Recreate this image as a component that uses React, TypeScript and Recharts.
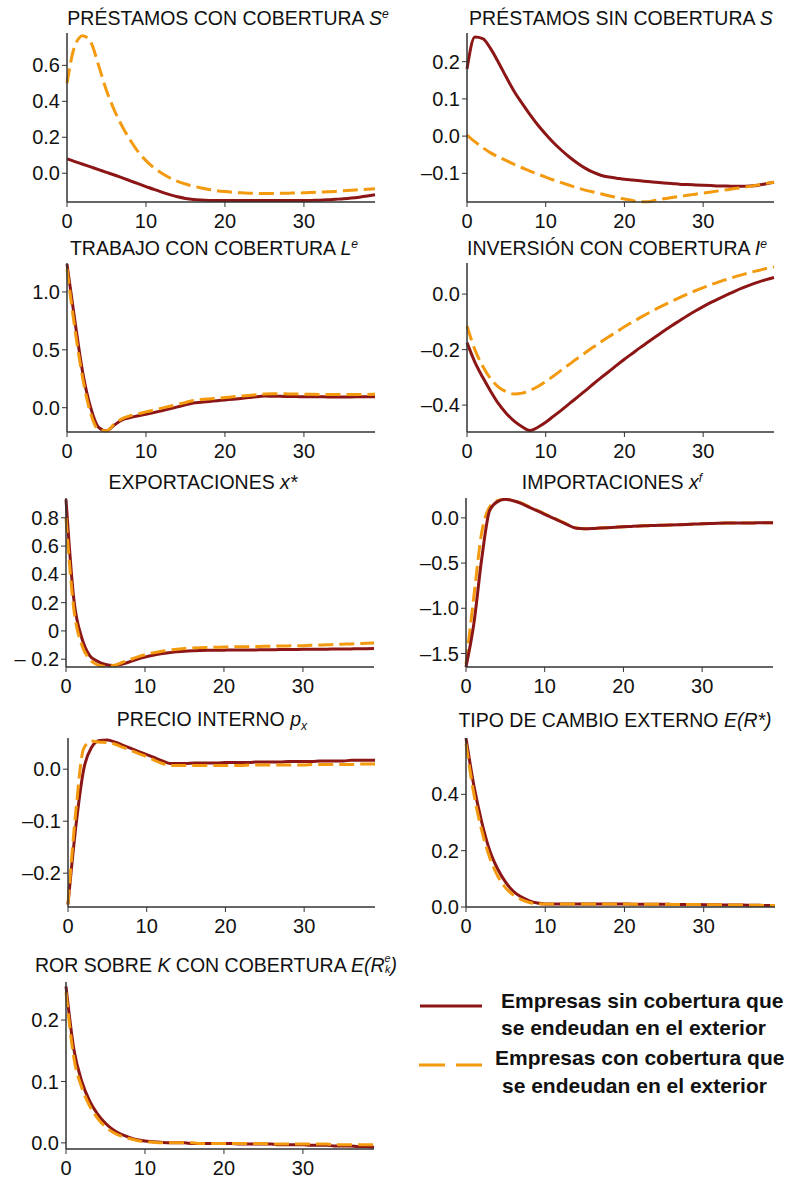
import React from 'react';
import { LineChart, Line, XAxis, YAxis } from 'recharts';

// periodos (trimestres) del eje horizontal
const periods = [0, 1, 2, 3, 4, 5, 6, 7, 8, 9, 10, 11, 12, 13, 14, 15, 16, 17, 18, 19, 20, 21, 22, 23, 24, 25, 26, 27, 28, 29, 30, 31, 32, 33, 34, 35, 36, 37, 38, 39];
const xTicks = [0, 10, 20, 30];

// sin cobertura (rojo) / con cobertura (naranja)
const loansHedgedSin = [0.08, 0.065, 0.05, 0.035, 0.02, 0.005, -0.01, -0.026, -0.042, -0.058, -0.074, -0.09, -0.105, -0.119, -0.131, -0.14, -0.146, -0.149, -0.151, -0.152, -0.152, -0.152, -0.152, -0.152, -0.152, -0.152, -0.152, -0.152, -0.152, -0.152, -0.152, -0.151, -0.15, -0.148, -0.145, -0.142, -0.138, -0.133, -0.127, -0.12];
const loansHedgedCon = [0.5, 0.71, 0.765, 0.73, 0.6, 0.46, 0.35, 0.26, 0.185, 0.12, 0.07, 0.03, 0.0, -0.025, -0.045, -0.06, -0.072, -0.082, -0.09, -0.097, -0.102, -0.106, -0.109, -0.111, -0.112, -0.113, -0.113, -0.112, -0.111, -0.11, -0.109, -0.107, -0.105, -0.103, -0.101, -0.098, -0.095, -0.092, -0.089, -0.086];

const loansUnhedgedSin = [0.18, 0.266, 0.262, 0.235, 0.198, 0.158, 0.12, 0.088, 0.058, 0.03, 0.005, -0.018, -0.038, -0.056, -0.072, -0.086, -0.097, -0.105, -0.11, -0.113, -0.116, -0.118, -0.12, -0.122, -0.124, -0.126, -0.127, -0.129, -0.13, -0.131, -0.132, -0.133, -0.134, -0.134, -0.135, -0.135, -0.134, -0.132, -0.128, -0.124];
const loansUnhedgedCon = [0.003, -0.015, -0.031, -0.045, -0.056, -0.066, -0.076, -0.085, -0.094, -0.102, -0.11, -0.118, -0.125, -0.132, -0.139, -0.145, -0.15, -0.155, -0.16, -0.165, -0.169, -0.173, -0.176, -0.176, -0.172, -0.168, -0.165, -0.162, -0.159, -0.156, -0.153, -0.15, -0.147, -0.144, -0.141, -0.138, -0.135, -0.131, -0.127, -0.124];

const laborSin = [1.24, 0.75, 0.3, 0.0, -0.17, -0.2, -0.15, -0.105, -0.085, -0.07, -0.057, -0.042, -0.026, -0.01, 0.007, 0.024, 0.04, 0.047, 0.054, 0.06, 0.067, 0.073, 0.08, 0.087, 0.094, 0.1, 0.099, 0.098, 0.097, 0.096, 0.095, 0.094, 0.094, 0.093, 0.093, 0.093, 0.093, 0.094, 0.094, 0.095];
const laborCon = [1.2, 0.68, 0.25, -0.05, -0.19, -0.2, -0.14, -0.095, -0.07, -0.052, -0.036, -0.02, -0.004, 0.012, 0.028, 0.045, 0.062, 0.07, 0.076, 0.082, 0.088, 0.094, 0.1, 0.106, 0.112, 0.118, 0.12, 0.12, 0.119, 0.118, 0.117, 0.116, 0.115, 0.114, 0.114, 0.113, 0.113, 0.113, 0.114, 0.116];

const investSin = [-0.175, -0.245, -0.3, -0.35, -0.395, -0.43, -0.458, -0.478, -0.492, -0.48, -0.462, -0.44, -0.418, -0.395, -0.372, -0.349, -0.325, -0.302, -0.28, -0.257, -0.235, -0.214, -0.193, -0.173, -0.153, -0.133, -0.114, -0.096, -0.078, -0.061, -0.045, -0.03, -0.016, -0.003, 0.01, 0.022, 0.033, 0.043, 0.052, 0.06];
const investCon = [-0.115, -0.2, -0.26, -0.305, -0.335, -0.352, -0.36, -0.357, -0.347, -0.333, -0.315, -0.295, -0.274, -0.253, -0.232, -0.212, -0.192, -0.173, -0.154, -0.136, -0.118, -0.101, -0.085, -0.069, -0.054, -0.04, -0.026, -0.013, 0.0, 0.012, 0.023, 0.034, 0.044, 0.053, 0.062, 0.07, 0.078, 0.085, 0.092, 0.098];

const exportsSin = [0.93, 0.22, -0.05, -0.175, -0.215, -0.237, -0.245, -0.235, -0.22, -0.2, -0.185, -0.172, -0.162, -0.154, -0.148, -0.143, -0.14, -0.138, -0.137, -0.137, -0.136, -0.135, -0.135, -0.134, -0.134, -0.133, -0.133, -0.132, -0.132, -0.131, -0.13, -0.13, -0.129, -0.129, -0.128, -0.127, -0.127, -0.126, -0.126, -0.125];
const exportsCon = [0.8, 0.15, -0.1, -0.2, -0.24, -0.25, -0.245, -0.225, -0.205, -0.185, -0.168, -0.155, -0.145, -0.137, -0.13, -0.125, -0.121, -0.118, -0.116, -0.115, -0.114, -0.113, -0.112, -0.111, -0.11, -0.109, -0.108, -0.107, -0.106, -0.105, -0.104, -0.102, -0.1, -0.098, -0.096, -0.094, -0.092, -0.09, -0.087, -0.085];

const importsSin = [-1.65, -1.17, -0.45, 0.08, 0.18, 0.205, 0.19, 0.16, 0.12, 0.08, 0.04, 0.0, -0.04, -0.08, -0.115, -0.12, -0.118, -0.113, -0.108, -0.103, -0.098, -0.094, -0.09, -0.087, -0.084, -0.081, -0.078, -0.075, -0.072, -0.069, -0.066, -0.063, -0.06, -0.058, -0.057, -0.056, -0.056, -0.055, -0.055, -0.055];
const importsCon = [-1.62, -0.87, -0.16, 0.12, 0.19, 0.205, 0.19, 0.165, 0.125, 0.085, 0.045, 0.005, -0.035, -0.075, -0.11, -0.12, -0.118, -0.113, -0.108, -0.103, -0.098, -0.094, -0.09, -0.087, -0.084, -0.081, -0.078, -0.075, -0.072, -0.069, -0.066, -0.063, -0.06, -0.058, -0.057, -0.056, -0.056, -0.055, -0.055, -0.055];

const priceSin = [-0.26, -0.11, 0.0, 0.042, 0.055, 0.056, 0.052, 0.046, 0.04, 0.034, 0.028, 0.022, 0.016, 0.011, 0.011, 0.011, 0.012, 0.012, 0.012, 0.012, 0.013, 0.013, 0.013, 0.013, 0.014, 0.014, 0.014, 0.014, 0.015, 0.015, 0.015, 0.015, 0.016, 0.016, 0.016, 0.016, 0.017, 0.017, 0.017, 0.017];
const priceCon = [-0.26, -0.08, 0.04, 0.054, 0.052, 0.051, 0.048, 0.042, 0.036, 0.03, 0.024, 0.017, 0.011, 0.007, 0.007, 0.007, 0.007, 0.007, 0.007, 0.007, 0.007, 0.007, 0.007, 0.008, 0.008, 0.008, 0.008, 0.008, 0.008, 0.008, 0.008, 0.009, 0.009, 0.009, 0.009, 0.009, 0.009, 0.01, 0.01, 0.01];

const fxSin = [0.6, 0.43, 0.3, 0.2, 0.135, 0.088, 0.055, 0.035, 0.022, 0.014, 0.011, 0.011, 0.011, 0.011, 0.011, 0.011, 0.011, 0.011, 0.011, 0.011, 0.011, 0.01, 0.01, 0.01, 0.01, 0.01, 0.009, 0.009, 0.009, 0.009, 0.008, 0.008, 0.008, 0.007, 0.007, 0.007, 0.006, 0.006, 0.005, 0.005];
const fxCon = [0.58, 0.4, 0.27, 0.175, 0.11, 0.068, 0.042, 0.026, 0.016, 0.012, 0.011, 0.011, 0.011, 0.011, 0.011, 0.011, 0.011, 0.011, 0.011, 0.011, 0.011, 0.01, 0.01, 0.01, 0.01, 0.01, 0.009, 0.009, 0.009, 0.009, 0.008, 0.008, 0.008, 0.007, 0.007, 0.007, 0.006, 0.006, 0.005, 0.005];

const rorSin = [0.255, 0.152, 0.1, 0.068, 0.047, 0.032, 0.021, 0.014, 0.009, 0.005, 0.003, 0.002, 0.001, 0.0, 0.0, 0.0, -0.001, -0.001, -0.001, -0.001, -0.001, -0.001, -0.002, -0.002, -0.002, -0.002, -0.002, -0.003, -0.003, -0.003, -0.003, -0.004, -0.004, -0.004, -0.005, -0.005, -0.005, -0.006, -0.006, -0.007];
const rorCon = [0.245, 0.138, 0.09, 0.06, 0.04, 0.026, 0.017, 0.011, 0.007, 0.004, 0.002, 0.001, 0.0, 0.0, 0.0, 0.0, 0.0, -0.001, -0.001, -0.001, -0.001, -0.001, -0.001, -0.001, -0.001, -0.001, -0.002, -0.002, -0.002, -0.002, -0.002, -0.002, -0.002, -0.002, -0.003, -0.003, -0.003, -0.003, -0.003, -0.003];

const RED = '#8c1515';
const ORANGE = '#f39a0f';
const AXIS = '#333';
const FONT = '"Liberation Sans", Arial, Helvetica, sans-serif';
const Y_W = 62;
const X_H = 34;

const minus = (v: number, d: number) => (v < 0 ? '\u2013' + Math.abs(v).toFixed(d) : v.toFixed(d));

const Sup = ({ children }: { children: React.ReactNode }) => (
  <span style={{ fontSize: '0.62em', position: 'relative', top: '-0.6em', lineHeight: 0 }}>{children}</span>
);
const Sub = ({ children }: { children: React.ReactNode }) => (
  <span style={{ fontSize: '0.62em', position: 'relative', top: '0.35em', lineHeight: 0 }}>{children}</span>
);

type Panel = {
  title: React.ReactNode;
  titleX: number;
  titleY: number;
  axisX: number;
  right: number;
  top: number;
  bottom: number;
  domain: [number, number];
  yTicks: number[];
  fmt: (v: number) => string;
  sin: number[];
  con: number[];
  redOnTop?: boolean;
};

const panels: Panel[] = [
  {
    title: <>PRÉSTAMOS CON COBERTURA <i>S</i><Sup><i>e</i></Sup></>,
    titleX: 228, titleY: 11, axisX: 67, right: 375, top: 33, bottom: 202,
    domain: [-0.16, 0.78], yTicks: [0, 0.2, 0.4, 0.6], fmt: (v) => minus(v, 1),
    sin: loansHedgedSin, con: loansHedgedCon,
  },
  {
    title: <>PRÉSTAMOS SIN COBERTURA <i>S</i></>,
    titleX: 621, titleY: 11, axisX: 467, right: 774, top: 33, bottom: 202,
    domain: [-0.177, 0.277], yTicks: [-0.1, 0, 0.1, 0.2], fmt: (v) => minus(v, 1),
    sin: loansUnhedgedSin, con: loansUnhedgedCon,
  },
  {
    title: <>TRABAJO CON COBERTURA <i>L</i><Sup><i>e</i></Sup></>,
    titleX: 214, titleY: 241, axisX: 67, right: 375, top: 263, bottom: 432,
    domain: [-0.21, 1.25], yTicks: [0, 0.5, 1], fmt: (v) => minus(v, 1),
    sin: laborSin, con: laborCon,
  },
  {
    title: <>INVERSIÓN CON COBERTURA <i>I</i><Sup><i>e</i></Sup></>,
    titleX: 617, titleY: 241, axisX: 467, right: 774, top: 263, bottom: 432,
    domain: [-0.497, 0.112], yTicks: [-0.4, -0.2, 0], fmt: (v) => minus(v, 1),
    sin: investSin, con: investCon,
  },
  {
    title: <>EXPORTACIONES <i>x*</i></>,
    titleX: 203, titleY: 475, axisX: 66, right: 374, top: 498, bottom: 667,
    domain: [-0.255, 0.94], yTicks: [-0.2, 0, 0.2, 0.4, 0.6, 0.8],
    fmt: (v) => (v === 0 ? '0' : v < 0 ? '\u2013 ' + Math.abs(v).toFixed(1) : v.toFixed(1)),
    sin: exportsSin, con: exportsCon,
  },
  {
    title: <>IMPORTACIONES <i>x</i><Sup><i>f</i></Sup></>,
    titleX: 612, titleY: 475, axisX: 466, right: 773, top: 498, bottom: 667,
    domain: [-1.65, 0.22], yTicks: [-1.5, -1, -0.5, 0], fmt: (v) => minus(v, 1),
    sin: importsSin, con: importsCon, redOnTop: true,
  },
  {
    title: <>PRECIO INTERNO <i>p</i><Sub><i>x</i></Sub></>,
    titleX: 212, titleY: 712, axisX: 68, right: 375, top: 738, bottom: 907,
    domain: [-0.265, 0.06], yTicks: [-0.2, -0.1, 0], fmt: (v) => minus(v, 1),
    sin: priceSin, con: priceCon,
  },
  {
    title: <>TIPO DE CAMBIO EXTERNO <i>E(R*)</i></>,
    titleX: 615, titleY: 713, axisX: 466, right: 775, top: 738, bottom: 907,
    domain: [0, 0.6], yTicks: [0, 0.2, 0.4], fmt: (v) => minus(v, 1),
    sin: fxSin, con: fxCon,
  },
  {
    title: (
      <>
        ROR SOBRE <i>K</i> CON COBERTURA <i>E(R</i>
        <span style={{ display: 'inline-flex', flexDirection: 'column', fontSize: '0.55em', lineHeight: 1, verticalAlign: 'top', fontStyle: 'italic', marginTop: -2 }}>
          <span>e</span>
          <span>k</span>
        </span>
        <i>)</i>
      </>
    ),
    titleX: 216, titleY: 958, axisX: 66, right: 374, top: 982, bottom: 1149,
    domain: [-0.01, 0.262], yTicks: [0, 0.1, 0.2], fmt: (v) => minus(v, 1),
    sin: rorSin, con: rorCon,
  },
];

const PanelChart = ({ p }: { p: Panel }) => {
  const rows = periods.map((t, i) => ({ t, sin: p.sin[i], con: p.con[i] }));
  const plotW = p.right - p.axisX;
  const plotH = p.bottom - p.top;
  const red = (
    <Line key="sin" dataKey="sin" type="monotone" stroke={RED} strokeWidth={3} dot={false} activeDot={false} isAnimationActive={false} />
  );
  const orange = (
    <Line key="con" dataKey="con" type="monotone" stroke={ORANGE} strokeWidth={3} strokeDasharray="15 6" dot={false} activeDot={false} isAnimationActive={false} />
  );
  return (
    <>
      <div
        style={{
          position: 'absolute', left: p.titleX - 220, width: 440, top: p.titleY - 3,
          textAlign: 'center', fontSize: 19.5, lineHeight: '20px', whiteSpace: 'nowrap', color: '#111',
        }}
      >
        {p.title}
      </div>
      <div style={{ position: 'absolute', left: p.axisX - Y_W, top: p.top }}>
        <LineChart width={Y_W + plotW + 8} height={plotH + X_H} data={rows} margin={{ top: 0, right: 8, bottom: 0, left: 0 }}>
          <XAxis
            dataKey="t" type="number" domain={[0, 39]} ticks={xTicks} height={X_H}
            tickSize={5} tickMargin={7} axisLine={{ stroke: AXIS, strokeWidth: 1.5 }} tickLine={{ stroke: AXIS }}
            tick={{ fill: '#111', fontSize: 20, fontFamily: FONT }}
          />
          <YAxis
            type="number" domain={p.domain} ticks={p.yTicks} width={Y_W} tickFormatter={p.fmt}
            tickSize={5} tickMargin={2} axisLine={{ stroke: AXIS, strokeWidth: 1.5 }} tickLine={{ stroke: AXIS }}
            tick={{ fill: '#111', fontSize: 20, fontFamily: FONT }}
          />
          {p.redOnTop ? [orange, red] : [red, orange]}
        </LineChart>
      </div>
    </>
  );
};

const legendText: React.CSSProperties = {
  position: 'absolute', fontSize: 21, lineHeight: '22px', fontWeight: 'bold', whiteSpace: 'nowrap', color: '#111',
};

export default function App() {
  return (
    <div style={{ position: 'absolute', left: 0, top: 0, width: 795, height: 1178, background: '#fff', fontFamily: FONT, overflow: 'hidden' }}>
      {panels.map((p, i) => (
        <PanelChart key={i} p={p} />
      ))}
      <svg style={{ position: 'absolute', left: 0, top: 0 }} width={795} height={1178} pointerEvents="none">
        <line x1={420} x2={482} y1={1006} y2={1006} stroke={RED} strokeWidth={3} />
        <line x1={419} x2={482} y1={1065} y2={1065} stroke={ORANGE} strokeWidth={3} strokeDasharray="26 11" />
      </svg>
      <div style={{ ...legendText, left: 501, top: 990 }}>Empresas sin cobertura que</div>
      <div style={{ ...legendText, left: 501, top: 1017 }}>se endeudan en el exterior</div>
      <div style={{ ...legendText, left: 495, top: 1047 }}>Empresas con cobertura que</div>
      <div style={{ ...legendText, left: 502, top: 1075 }}>se endeudan en el exterior</div>
    </div>
  );
}
